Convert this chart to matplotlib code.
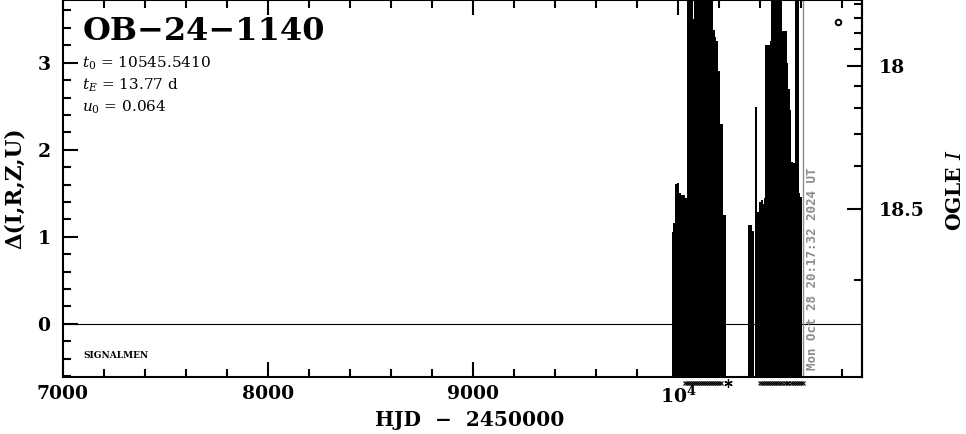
"""
OB-24-1140 OGLE 光变曲线 — Δ(I,R,Z,U) 主轴 + OGLE I 副轴
"""

import numpy as np
import matplotlib
matplotlib.use("Agg")
import matplotlib.pyplot as plt
from matplotlib.ticker import MultipleLocator, FuncFormatter
from matplotlib.transforms import blended_transform_factory

# ══════════════════════════════════════════
# 事件参数
# ══════════════════════════════════════════
EVENT  = "OB-24-1140"
T0     = 10545.5410
TE     = 13.77
U0     = 0.064
T_NOW  = 10612.35                 # Mon Oct 28 20:17:32 2024 UT
STAMP  = "Mon Oct 28 20:17:32 2024 UT"

# Δ ↔ I 换算 (由右轴刻度反推：源流量 + 混合流量)
I_REF  = 18.0
F_BL   = 0.526
F_SRC  = 0.0311

# ── 2023 季 ──────────────────────────────
t1 = [9976, 9983, 9993, 10002, 10012, 10022, 10032, 10041,
      10049, 10056, 10062, 10069, 10075, 10082, 10088, 10095, 10101,
      10108, 10114, 10121, 10127, 10134, 10140, 10147, 10153, 10160,
      10166, 10176, 10183, 10190, 10198, 10205, 10215, 10225, 10232]
I1 = [18.640, 18.625, 18.610, 18.630, 18.620, 18.645, 18.615, 18.630,
      18.620, 18.635, 18.610, 18.640, 18.625, 18.615, 18.650, 18.620, 18.630,
      18.605, 18.640, 18.625, 18.615, 18.635, 18.620, 18.645, 18.610, 18.630,
      18.620, 18.635, 18.615, 18.625, 18.640, 18.620, 18.630, 18.615, 18.635]
e1 = [0.100, 0.100, 0.162, 0.186, 0.152, 0.173, 0.143, 0.152,
      1.21, 1.30, 1.18, 1.42, 0.916, 1.25, 1.36, 1.12, 1.47,
      1.29, 1.33, 1.19, 1.40, 1.27, 1.15, 1.38, 1.24, 1.31,
      1.17, 0.855, 0.791, 0.773, 0.613, 0.357, 0.367, 0.103, 0.123]

# ── 2024 季 ──────────────────────────────
t2 = [10346, 10356, 10366, 10383, 10393, 10402, 10410, 10417, 10424,
      10432, 10439, 10446, 10454, 10461, 10468, 10476, 10483, 10490,
      10498, 10505, 10512, 10520, 10527, 10534, 10542, 10549, 10556,
      10563, 10571, 10578, 10585, 10593, 10600]
I2 = [18.630, 18.615, 18.640, 18.620, 18.635, 18.610, 18.625, 18.645, 18.620,
      18.630, 18.615, 18.640, 18.620, 18.635, 18.610, 18.625, 18.640, 18.615,
      18.630, 18.620, 18.635, 18.610, 18.625, 18.640, 18.620, 18.630, 18.615,
      18.635, 18.620, 18.640, 18.610, 18.625, 18.630]
e2 = [0.102, 0.087, 0.101, 0.423, 0.129, 0.123, 0.142, 0.155, 0.142,
      0.752, 0.737, 0.762, 0.768, 1.28, 1.21, 1.35, 1.19, 1.44,
      1.26, 1.17, 0.844, 0.819, 0.834, 0.660, 0.505, 0.422, 0.225,
      0.243, 0.228, 1.32, 1.23, 0.157, 0.154]

# 轴下方的观测时刻标记
t_rug = [10034, 10044, 10053, 10063, 10072, 10083, 10092, 10102, 10111,
         10122, 10131, 10141, 10150, 10161, 10170, 10180, 10191, 10200, 10210,
         10401, 10411, 10420, 10430, 10441, 10450, 10459, 10470, 10480, 10489,
         10500, 10509, 10520, 10530, 10539, 10550, 10561, 10570, 10580, 10591,
         10600, 10610]
t_rug_star = [10244]

# 右上角小圆圈
mark_t, mark_d = 10780, 3.47

XLIM = (7000, 10898)
YLIM = (-0.61, 3.72)


def mag_to_delta(I):
    f = 10 ** (-0.4 * (np.asarray(I, dtype=float) - I_REF)) - F_BL
    f = np.maximum(f, 1e-9)              # 低于混合流量 → 远在下边界之外
    return 2.5 * np.log10(f / F_SRC)


def delta_to_mag(d):
    return I_REF - 2.5 * np.log10(F_SRC * 10 ** (0.4 * np.asarray(d, dtype=float)) + F_BL)


# ══════════════════════════════════════════
# 绘图
# ══════════════════════════════════════════
plt.rcParams['font.family'] = ['DejaVu Serif']
plt.rcParams['font.weight'] = 'bold'
plt.rcParams['axes.labelweight'] = 'bold'
plt.rcParams['mathtext.fontset'] = 'custom'
plt.rcParams['mathtext.rm'] = 'DejaVu Serif:weight=normal'
plt.rcParams['mathtext.it'] = 'DejaVu Serif:style=italic:weight=normal'
plt.rcParams['mathtext.bf'] = 'DejaVu Serif:weight=bold'
plt.rcParams['axes.linewidth'] = 1.5

fig = plt.figure(figsize=(9.66, 4.34), dpi=100)
ax = fig.add_axes([63 / 966, 1 - 377 / 434, 799 / 966, 377 / 434])

for t, I, e in [(t1, I1, e1), (t2, I2, e2)]:
    I = np.array(I); e = np.array(e)
    ax.vlines(t, mag_to_delta(I + e), mag_to_delta(I - e), colors='k',
              lw=1.1, antialiased=False)

ax.axhline(0, color='k', lw=0.8)
ax.axvline(T_NOW, color='#8c8c8c', lw=1.0)
ax.plot([mark_t], [mark_d], 'o', ms=4, mfc='white', mec='k', mew=1.4)

trans = blended_transform_factory(ax.transData, ax.transAxes)
ax.plot(t_rug, [-0.016] * len(t_rug), 'x', ms=3.5, mew=0.8, color='k',
        transform=trans, clip_on=False)
ax.plot(t_rug_star, [-0.016], marker=(6, 2, 0), ms=6, mew=0.9, color='k',
        ls='none', transform=trans, clip_on=False)

ax.set_xlim(*XLIM)
ax.set_ylim(*YLIM)

ax.xaxis.set_major_locator(MultipleLocator(1000))
ax.xaxis.set_minor_locator(MultipleLocator(200))
ax.yaxis.set_major_locator(MultipleLocator(1))
ax.yaxis.set_minor_locator(MultipleLocator(0.2))
ax.xaxis.set_major_formatter(FuncFormatter(
    lambda v, p: r'$\mathbf{10^4}$' if v == 10000 else f'{v:.0f}'))

ax.tick_params(which='both', direction='in', top=True, right=False,
               width=1.5, labelsize=13.5)
ax.tick_params(which='major', length=11)
ax.tick_params(which='minor', length=5.5)
ax.tick_params(axis='x', pad=6)
ax.tick_params(axis='y', pad=9)

ax.set_xlabel("HJD  \u2212  2450000", fontsize=14.5)
ax.xaxis.set_label_coords(0.509, -0.088)
ax.set_ylabel("\u0394(I,R,Z,U)", fontsize=15.5)
ax.yaxis.label.set_va('center')
ax.yaxis.set_label_coords(-0.060, 0.5)

# 右轴：OGLE I (只标注可见范围内的刻度)
I_lo, I_hi = sorted(delta_to_mag(np.array(YLIM)))
sec = ax.secondary_yaxis('right', functions=(delta_to_mag, mag_to_delta))
sec.yaxis.set_major_locator(MultipleLocator(0.5))
sec.yaxis.set_minor_locator(MultipleLocator(0.1))
sec.yaxis.set_major_formatter(FuncFormatter(
    lambda v, p: f'{v:g}' if I_lo <= v <= I_hi else ''))
sec.tick_params(which='both', direction='in', width=1.5, labelsize=13.5, pad=12)
sec.tick_params(which='major', length=10.5)
sec.tick_params(which='minor', length=5.5)
fig.text(955 / 966, 1 - 190 / 434, "OGLE $I$", rotation=90,
         ha='center', va='center', fontsize=14.5)

# 文字标注
ax.text(0.025, 0.958, EVENT.replace('-', '\u2212'), transform=ax.transAxes,
        fontsize=23, ha='left', va='top')
ax.text(0.024, 0.833, f"$t_0$ = {T0:.4f}", transform=ax.transAxes,
        fontsize=11, fontweight='normal', va='center')
ax.text(0.024, 0.775, f"$t_E$ = {TE:.2f} d", transform=ax.transAxes,
        fontsize=11, fontweight='normal', va='center')
ax.text(0.024, 0.716, f"$u_0$ = {U0:.3f}", transform=ax.transAxes,
        fontsize=11, fontweight='normal', va='center')
ax.text(0.025, 0.058, "SIGNALMEN", transform=ax.transAxes,
        fontsize=6.5, va='center')
ax.text(10655, -0.53, STAMP, rotation=90, ha='center', va='bottom',
        fontsize=9, color='#8c8c8c', family='DejaVu Sans Mono', fontweight='bold')

fig.savefig("out.png", dpi=100)
